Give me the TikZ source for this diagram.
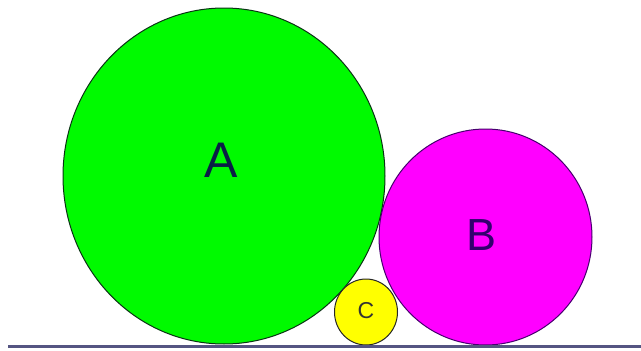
\documentclass[tikz,border=0pt]{standalone}
\usepackage{fontspec}
\setmainfont{Liberation Sans}
\usetikzlibrary{shapes.geometric}
\definecolor{gA}{RGB}{0,250,0}
\definecolor{mB}{RGB}{255,0,255}
\definecolor{yC}{RGB}{255,255,0}
\definecolor{lineC}{RGB}{85,85,130}
\definecolor{edgeA}{RGB}{10,50,20}
\definecolor{edgeB}{RGB}{70,0,110}
\definecolor{txtA}{RGB}{10,30,70}
\definecolor{txtB}{RGB}{50,0,110}
\tikzset{
  disc/.style={ellipse, inner sep=0pt, line width=1pt},
  lbl/.style={inner sep=0pt, anchor=center},
}
\begin{document}
\begin{tikzpicture}[x=1pt,y=-1pt]
\useasboundingbox (0,0) rectangle (641,351);
\fill[white] (0,0) rectangle (641,351);
\node[disc, draw=edgeA, fill=gA, minimum width=322pt, minimum height=336pt] (A) at (224,176) {};
\node[disc, draw=edgeB, fill=mB, minimum width=213pt, minimum height=216pt] (B) at (485.5,237) {};
\node[disc, draw=black!85, fill=yC, minimum width=63pt, minimum height=66pt] (C) at (366,312) {};
\coordinate (L0) at (8,346.5);
\coordinate (L1) at (641,346.5);
\draw[lineC, line width=2.5pt] (L0) -- (L1);
\node[lbl, text=txtA, font=\fontsize{50}{50}\selectfont] (tA) at (221,160) {A};
\node[lbl, text=txtB, font=\fontsize{45}{45}\selectfont] (tB) at (482,235) {B};
\node[lbl, text=black!80, font=\fontsize{23}{23}\selectfont] (tC) at (366,311) {C};
\end{tikzpicture}
\end{document}
